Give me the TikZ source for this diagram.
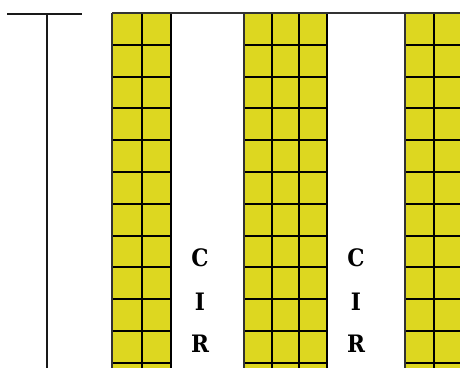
\documentclass[tikz,border=0pt]{standalone}
\usepackage{fontspec}
\newfontfamily\aislefont{DejaVu Serif Condensed}
\definecolor{rackyellow}{RGB}{221,215,32}
\tikzset{
  rackline/.style  = {line width=2pt, black},
  rackedge/.style  = {line width=2pt, black!80},
  wall/.style      = {line width=2pt, black!90},
  aislelabel/.style = {font=\aislefont\bfseries\fontsize{24}{24}\selectfont,
                       inner sep=0pt, anchor=center},
}
% one rack: #1 left x, #2 cell width, #3 columns
\newcommand{\rackblock}[3]{%
  \fill[rackyellow] (#1,13) rectangle ++(#2*#3,370);
  \foreach \k in {1,...,12}
    \draw[rackline] (#1,13+31.8*\k) -- ++(#2*#3,0);
  \foreach \c in {1,...,#3}
    \draw[rackline] (#1+#2*\c,13) -- ++(0,370);
  \draw[rackedge] (#1,13) -- ++(0,370);
}

\begin{document}
\begin{tikzpicture}[x=1pt, y=-1pt]
\useasboundingbox (0,0) rectangle (460,367);
\clip (0,0) rectangle (460,367);

% ===== wall at the left =====
\coordinate (wallL) at (7,13.5);
\coordinate (wallR) at (82,13.5);
\coordinate (wallT) at (47,13.5);
\coordinate (wallB) at (47,370);
\draw[wall] (wallL) -- (wallR);
\draw[wall] (wallT) -- (wallB);

% ===== racks =====
\rackblock{112}{29.5}{2}
\rackblock{244}{27.7}{3}
\rackblock{405}{28.5}{3}
\coordinate (topL) at (112,13);
\coordinate (topR) at (462,13);
\draw[rackedge] (topL) -- (topR);

% ===== aisle labels =====
\node[aislelabel] (c1) at (200,258) {C};
\node[aislelabel] (i1) at (200,302) {I};
\node[aislelabel] (r1) at (200,344) {R};
\node[aislelabel] (c2) at (356,258) {C};
\node[aislelabel] (i2) at (356,302) {I};
\node[aislelabel] (r2) at (356,344) {R};

\end{tikzpicture}
\end{document}
